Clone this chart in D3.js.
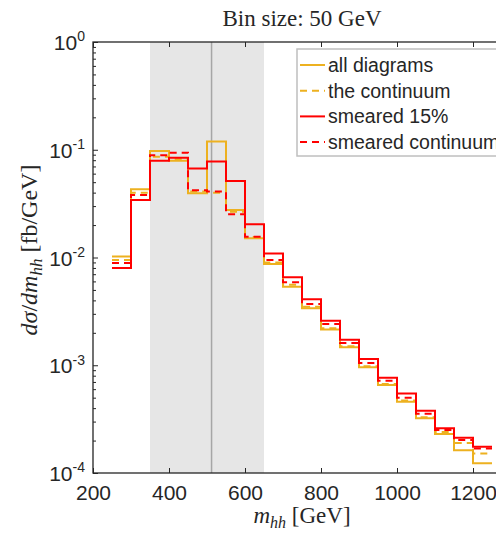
<!DOCTYPE html>
<html>
<head>
<meta charset="utf-8">
<script src="https://cdn.jsdelivr.net/npm/d3@7"></script>
<style>
  body { margin: 0; background: #fff; }
  svg { display: block; }
</style>
</head>
<body>
<div class="chart"></div>
<script>
// data (dsigma/dm_hh in fb/GeV, 50 GeV bins)
const binStart = [250, 300, 350, 400, 450, 500, 550, 600, 650, 700,
                  750, 800, 850, 900, 950, 1000, 1050, 1100, 1150, 1200]
const binWidth = 50
const allDiagrams = [0.0102, 0.043, 0.0975, 0.079, 0.0394, 0.119, 0.0276, 0.0151, 0.0087, 0.00536,
                     0.00338, 0.00215, 0.00147, 0.000957, 0.000656, 0.000459, 0.000322, 0.00023, 0.000163, 0.000123]
const continuum = [0.0095, 0.040, 0.086, 0.082, 0.041, 0.040, 0.0266, 0.0155, 0.009, 0.0056,
                   0.0035, 0.0022, 0.0015, 0.00098, 0.00067, 0.00047, 0.00033, 0.00024, 0.00019, 0.000152]
const smeared = [0.0080, 0.0342, 0.079, 0.0845, 0.067, 0.078, 0.0513, 0.0203, 0.0109, 0.00655,
                 0.00409, 0.00259, 0.00172, 0.00114, 0.000767, 0.000548, 0.000379, 0.00026, 0.000212, 0.000175]
const smearedContinuum = [0.0089, 0.038, 0.089, 0.094, 0.042, 0.041, 0.0252, 0.0156, 0.0095, 0.00589,
                          0.0037, 0.00241, 0.00161, 0.00105, 0.000717, 0.0005, 0.000355, 0.000251, 0.000202, 0.000169]
const seriesNames = ["all diagrams", "the continuum", "smeared 15%", "smeared continuum"]
const xTicks = [200, 400, 600, 800, 1000, 1200]
const yTicks = [1e-4, 1e-3, 1e-2, 1e-1, 1]
const yTickExp = ["-4", "-3", "-2", "-1", "0"]
const windowRange = [350, 650]
const peakMass = 512

const width = 496, height = 533
const margin = {top: 42, left: 93, right: 511, bottom: 473}
const ink = "#262626"
const orange = "#EDB120", red = "#FF0000"

const svg = d3.select(".chart").append("svg").attr("width", width).attr("height", height)

const x = d3.scaleLinear().domain([200, 1300]).range([margin.left, margin.right])
const y = d3.scaleLog().domain([1e-4, 1]).range([margin.bottom, margin.top])

// shaded mass window and peak marker
svg.append("rect").attr("x", x(windowRange[0])).attr("y", margin.top)
   .attr("width", x(windowRange[1]) - x(windowRange[0])).attr("height", margin.bottom - margin.top)
   .attr("fill", "#e6e6e6")
svg.append("line").attr("x1", x(peakMass)).attr("x2", x(peakMass))
   .attr("y1", margin.top).attr("y2", margin.bottom)
   .attr("stroke", "#a6a6a6").attr("stroke-width", 1.5)

// histograms as stairs
const stairLine = d3.line().x(d => x(d[0])).y(d => y(d[1]))
function stairs(vals) {
    return binStart.flatMap((b, i) => [[b, vals[i]], [b + binWidth, vals[i]]])
}
const series = [
    {name: seriesNames[0], vals: allDiagrams, color: orange, dash: null},
    {name: seriesNames[1], vals: continuum, color: orange, dash: "7,5"},
    {name: seriesNames[2], vals: smeared, color: red, dash: null},
    {name: seriesNames[3], vals: smearedContinuum, color: red, dash: "7,5"}
]
svg.append("g").selectAll("path").data(series).enter().append("path")
   .attr("d", d => stairLine(stairs(d.vals)))
   .attr("fill", "none").attr("stroke", d => d.color).attr("stroke-width", 2)
   .attr("stroke-dasharray", d => d.dash)

// axes
const fontSans = "'Liberation Sans', Arial, sans-serif"
const fontSerif = "'Liberation Serif', 'Times New Roman', serif"

const xAxis = svg.append("g").attr("transform", `translate(0,${margin.bottom})`)
   .call(d3.axisBottom(x).tickValues(xTicks).tickSize(-5).tickPadding(12).tickFormat(d3.format("d")))
xAxis.select(".domain").remove()
xAxis.selectAll("line").attr("stroke", ink)
xAxis.selectAll("text").attr("font-family", fontSans).attr("font-size", 21).attr("fill", ink)
   .attr("dy", "0.71em")

const xAxisTop = svg.append("g").attr("transform", `translate(0,${margin.top})`)
   .call(d3.axisTop(x).tickValues(xTicks).tickSize(-5).tickFormat(""))
xAxisTop.select(".domain").remove()
xAxisTop.selectAll("line").attr("stroke", ink)

const minorTicks = []
yTicks.slice(0, -1).forEach(t => { for (let k = 2; k <= 9; k++) minorTicks.push(t * k) })
const yMinor = svg.append("g").attr("transform", `translate(${margin.left},0)`)
   .call(d3.axisLeft(y).tickValues(minorTicks).tickSize(-3).tickFormat(""))
yMinor.select(".domain").remove()
yMinor.selectAll("line").attr("stroke", ink)

const yAxis = svg.append("g").attr("transform", `translate(${margin.left},0)`)
   .call(d3.axisLeft(y).tickValues(yTicks).tickSize(-5).tickPadding(8).tickFormat(""))
yAxis.select(".domain").remove()
yAxis.selectAll("line").attr("stroke", ink)
yAxis.selectAll("text").each(function(d, i) {
    const t = d3.select(this).attr("font-family", fontSans).attr("fill", ink)
       .attr("font-size", 21).attr("dy", "0.36em")
    t.append("tspan").text("10")
    t.append("tspan").attr("font-size", 14).attr("dy", "-0.62em").text(yTickExp[i])
})

// box
svg.append("rect").attr("x", margin.left).attr("y", margin.top)
   .attr("width", margin.right - margin.left).attr("height", margin.bottom - margin.top)
   .attr("fill", "none").attr("stroke", ink).attr("stroke-width", 1.3)

// title and axis labels
svg.append("text").attr("x", 302).attr("y", 26).attr("text-anchor", "middle")
   .attr("font-family", fontSerif).attr("font-size", 23).attr("fill", ink).text("Bin size: 50 GeV")

const xLab = svg.append("text").attr("x", 302).attr("y", 523).attr("text-anchor", "middle")
   .attr("font-family", fontSerif).attr("font-size", 23).attr("fill", ink)
xLab.append("tspan").attr("font-style", "italic").text("m")
xLab.append("tspan").attr("font-style", "italic").attr("font-size", 16).attr("dy", 5).text("hh")
xLab.append("tspan").attr("dy", -5).text(" [GeV]")

const yLab = svg.append("text").attr("transform", "translate(37,250) rotate(-90)").attr("text-anchor", "middle")
   .attr("font-family", fontSerif).attr("font-size", 24).attr("fill", ink)
yLab.append("tspan").attr("font-style", "italic").text("dσ")
yLab.append("tspan").text("/")
yLab.append("tspan").attr("font-style", "italic").text("dm")
yLab.append("tspan").attr("font-style", "italic").attr("font-size", 17).attr("dy", 5).text("hh")
yLab.append("tspan").attr("dy", -5).text(" [fb/GeV]")

// legend
const legend = svg.append("g")
legend.append("rect").attr("x", 297).attr("y", 49).attr("width", 230).attr("height", 107)
   .attr("fill", "#fff").attr("stroke", "#bfbfbf").attr("stroke-width", 1.5)
const rows = legend.selectAll(".legend").data(series).enter().append("g").attr("class", "legend")
   .attr("transform", (d, i) => `translate(0,${65 + i * 25.7})`)
rows.append("line").attr("x1", 300).attr("x2", 325).attr("y1", 0).attr("y2", 0)
   .attr("stroke", d => d.color).attr("stroke-width", 2).attr("stroke-dasharray", d => d.dash)
rows.append("text").attr("x", 328).attr("y", 7).text(d => d.name)
   .attr("font-family", fontSans).attr("font-size", 19.5).attr("fill", ink)
</script>
</body>
</html>
